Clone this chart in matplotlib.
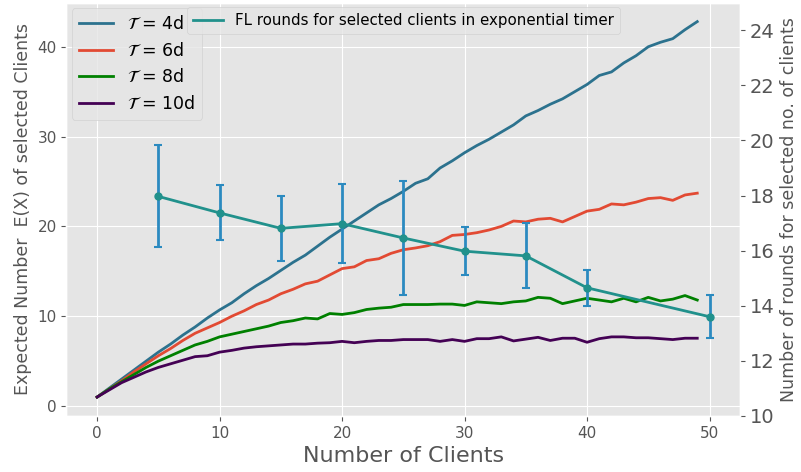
import numpy as np
import matplotlib
matplotlib.use('Agg')
import matplotlib.pyplot as plt

plt.style.use('ggplot')

clients = np.arange(50)

ex_4d = [1.0, 2.0, 3.0, 4.0, 5.0, 6.0, 6.9, 7.9, 8.8, 9.8,
         10.7, 11.5, 12.5, 13.4, 14.2, 15.1, 16.0, 16.8, 17.8, 18.8,
         19.7, 20.6, 21.5, 22.4, 23.1, 23.9, 24.8, 25.3, 26.5, 27.3,
         28.2, 29.0, 29.7, 30.5, 31.3, 32.3, 32.9, 33.6, 34.2, 35.0,
         35.8, 36.8, 37.2, 38.2, 39.0, 40.0, 40.5, 40.9, 41.9, 42.8]
ex_6d = [1.0, 1.9, 2.8, 3.8, 4.7, 5.6, 6.4, 7.3, 8.1, 8.7,
         9.3, 10.0, 10.6, 11.3, 11.8, 12.5, 13.0, 13.6, 13.9, 14.6,
         15.3, 15.5, 16.2, 16.4, 17.0, 17.4, 17.6, 17.85, 18.3, 19.0,
         19.1, 19.3, 19.6, 20.0, 20.6, 20.5, 20.8, 20.9, 20.5, 21.1,
         21.7, 21.9, 22.5, 22.4, 22.7, 23.1, 23.2, 22.9, 23.5, 23.7]
ex_8d = [1.0, 1.9, 2.7, 3.5, 4.3, 5.0, 5.6, 6.2, 6.8, 7.2,
         7.7, 8.0, 8.3, 8.6, 8.9, 9.3, 9.5, 9.8, 9.7, 10.3,
         10.2, 10.4, 10.75, 10.9, 11.0, 11.3, 11.3, 11.3, 11.35, 11.35,
         11.2, 11.6, 11.5, 11.4, 11.6, 11.7, 12.1, 12.0, 11.4, 11.7,
         12.0, 11.8, 11.6, 12.0, 11.6, 12.1, 11.7, 11.9, 12.3, 11.8]
ex_10d = [1.0, 1.8, 2.6, 3.2, 3.8, 4.3, 4.7, 5.1, 5.5, 5.6,
          6.0, 6.2, 6.45, 6.6, 6.7, 6.8, 6.9, 6.9, 7.0, 7.05,
          7.2, 7.05, 7.2, 7.3, 7.3, 7.4, 7.4, 7.4, 7.2, 7.4,
          7.2, 7.5, 7.5, 7.7, 7.25, 7.45, 7.65, 7.3, 7.55, 7.55,
          7.1, 7.5, 7.7, 7.7, 7.6, 7.6, 7.5, 7.4, 7.55, 7.55]

fl_clients = [5, 10, 15, 20, 25, 30, 35, 40, 50]
fl_rounds = [17.97, 17.37, 16.81, 16.98, 16.46, 15.98, 15.81, 14.65, 13.6]
fl_err = [1.85, 1.0, 1.17, 1.43, 2.06, 0.88, 1.18, 0.66, 0.78]

labels = [r'$\mathcal{T}$ = 4d', r'$\mathcal{T}$ = 6d', r'$\mathcal{T}$ = 8d', r'$\mathcal{T}$ = 10d']
colors = ['#2c728e', '#E24A33', 'green', '#440154']

fig = plt.figure(figsize=(8.01, 4.72), dpi=100)
ax = fig.add_axes([0.083, 0.119, 0.841, 0.875])

for ys, lab, c in zip([ex_4d, ex_6d, ex_8d, ex_10d], labels, colors):
    ax.plot(clients, ys, color=c, linewidth=2, label=lab)

ax.set_xlabel('Number of Clients', fontsize=16, color='#555555')
ax.set_ylabel('Expected Number  E(X) of selected Clients', fontsize=12.5, color='#555555')
ax.tick_params(labelsize=11)
ax.set_xticks([0, 10, 20, 30, 40, 50])
ax.legend(loc='upper left', fontsize=12.5, handlelength=2, borderaxespad=0.3)

ax2 = ax.twinx()
ax2.grid(False)
ax2.plot(fl_clients, fl_rounds, color='#21918c', linewidth=2,
         label='FL rounds for selected clients in exponential timer')
ax2.errorbar(fl_clients, fl_rounds, yerr=fl_err, fmt='o', color='#21918c', ecolor='#2b8ac0',
             elinewidth=2, capsize=3, capthick=1.5, markersize=5)
ax2.set_ylim(10, 25)
ax2.set_ylabel('Number of rounds for selected no. of clients', fontsize=12.5, color='#555555')
ax2.tick_params(labelsize=14)
ax2.legend(loc='upper center', fontsize=10.8, borderaxespad=0.3)

fig.savefig('out.png', dpi=100)
